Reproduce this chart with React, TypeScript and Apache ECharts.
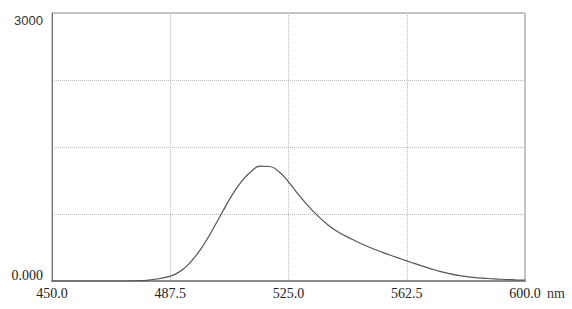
import React, { useEffect, useRef } from "react";
import * as echarts from "echarts";

const wavelengths = [450, 474, 477, 480, 483, 486, 489, 492, 495, 498, 501, 504, 507, 510, 513, 516, 519, 522, 525, 528, 531, 534, 537, 540, 543, 546, 549, 552, 555, 558, 561, 564, 567, 570, 573, 576, 579, 582, 585, 588, 591, 594, 597, 600];
const intensity = [0, 0, 3, 8, 21, 41, 74, 144, 255, 400, 580, 770, 955, 1110, 1220, 1285, 1282, 1222, 1110, 975, 850, 740, 643, 565, 505, 453, 403, 358, 318, 280, 243, 207, 172, 139, 108, 82, 62, 47, 36, 28, 22, 17, 13, 10];
const yTickLabels: Record<number, string> = { 0: "0.000", 3000: "3000" };
const xUnit = "nm";

export default function App() {
  const ref = useRef<HTMLDivElement>(null);
  useEffect(() => {
    if (!ref.current) return;
    const chart = echarts.init(ref.current, null, { renderer: "svg" });
    const data = wavelengths.map((w, i) => [w, intensity[i]]);
    chart.setOption({
      animation: false,
      backgroundColor: "#ffffff",
      grid: {
        left: 52,
        right: 47,
        top: 13,
        bottom: 28,
        show: true,
        borderColor: "#8a8a8a",
        borderWidth: 1,
        backgroundColor: "transparent",
      },
      xAxis: {
        type: "value",
        min: 450,
        max: 600,
        interval: 37.5,
        name: xUnit,
        nameLocation: "end",
        nameGap: 22,
        nameTextStyle: {
          fontFamily: "Liberation Serif",
          fontSize: 14,
          color: "#333",
          verticalAlign: "top",
          padding: [5, 0, 0, 0],
        },
        axisLine: { show: true, lineStyle: { color: "#8a8a8a", width: 2 } },
        axisTick: { show: false },
        axisLabel: {
          margin: 5,
          fontFamily: "Liberation Serif",
          fontSize: 14,
          color: "#222",
          formatter: (v: number) => v.toFixed(1),
        },
        splitLine: { show: true, lineStyle: { color: "#bdbdbd", type: [1, 1], width: 1 } },
      },
      yAxis: {
        type: "value",
        min: 0,
        max: 3000,
        interval: 750,
        axisLine: { show: true, lineStyle: { color: "#777", width: 1 } },
        axisTick: { show: false },
        axisLabel: {
          margin: 9,
          color: "#222",
          formatter: (v: number) => {
            if (v === 3000) return "{a|" + yTickLabels[3000] + "}";
            if (v === 0) return "{b|" + yTickLabels[0] + "}";
            return "";
          },
          rich: {
            a: { fontFamily: "Liberation Sans", fontSize: 13, color: "#333", padding: [14, 0, 0, 0] },
            b: { fontFamily: "Liberation Serif", fontSize: 14, color: "#222", padding: [0, 0, 12, 0] },
          },
        },
        splitLine: { show: true, lineStyle: { color: "#bdbdbd", type: [1, 1], width: 1 } },
      },
      series: [
        {
          type: "line",
          data,
          smooth: 0.5,
          showSymbol: false,
          lineStyle: { color: "#555", width: 1.2 },
          z: 3,
        },
      ],
    });
    return () => chart.dispose();
  }, []);
  return <div ref={ref} style={{ position: "fixed", left: 0, top: 0, width: 572, height: 309 }} />;
}
